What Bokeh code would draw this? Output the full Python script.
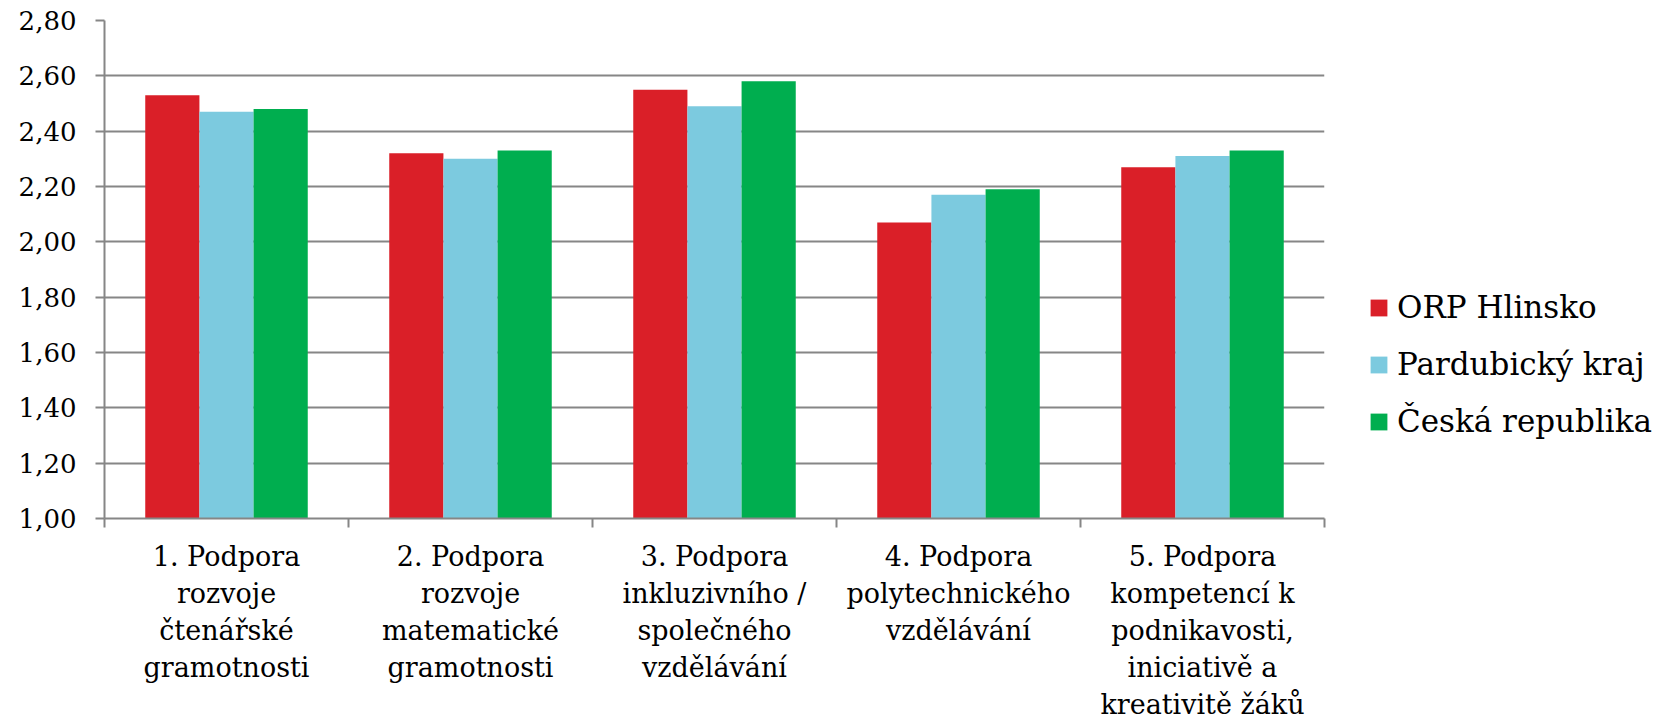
from bokeh.plotting import figure
from bokeh.models import ColumnDataSource, Range1d, FixedTicker, Legend, LegendItem
from bokeh.transform import dodge
from bokeh.embed import file_html
from bokeh.resources import INLINE

categories = [
    "1. Podpora\nrozvoje\nčtenářské\ngramotnosti",
    "2. Podpora\nrozvoje\nmatematické\ngramotnosti",
    "3. Podpora\ninkluzivního /\nspolečného\nvzdělávání",
    "4. Podpora\npolytechnického\nvzdělávání",
    "5. Podpora\nkompetencí k\npodnikavosti,\niniciativě a\nkreativitě žáků",
]
series_names = ["ORP Hlinsko", "Pardubický kraj", "Česká republika"]
orp_hlinsko = [2.53, 2.32, 2.55, 2.07, 2.27]
pardubicky_kraj = [2.47, 2.30, 2.49, 2.17, 2.31]
ceska_republika = [2.48, 2.33, 2.58, 2.19, 2.33]
y_ticks = [1.0, 1.2, 1.4, 1.6, 1.8, 2.0, 2.2, 2.4, 2.6, 2.8]
y_tick_labels = ["1,00", "1,20", "1,40", "1,60", "1,80", "2,00", "2,20", "2,40", "2,60", "2,80"]
colors = ["#DA1F28", "#7CCADF", "#00AE4F"]

n = len(categories)
xs = [i + 0.5 for i in range(n)]
boundaries = [float(i) for i in range(n + 1)]

source = ColumnDataSource(data=dict(
    x=xs,
    orp=orp_hlinsko,
    par=pardubicky_kraj,
    cr=ceska_republika,
))

GRAY = "#868686"
FONT = "DejaVu Serif"

p = figure(
    frame_width=1220, frame_height=498,
    min_border_left=104, min_border_top=20, min_border_right=325, min_border_bottom=178,
    x_range=Range1d(0, n), y_range=Range1d(1.0, 2.8),
    output_backend="svg", toolbar_location=None,
)
p.outline_line_color = None
p.background_fill_color = "white"
p.border_fill_color = "white"

bw = 0.222
renderers = []
for off, col, c in zip([-bw, 0.0, bw], ["orp", "par", "cr"], colors):
    r = p.vbar(x=dodge("x", off, range=p.x_range), top=col, bottom=1.0, width=bw,
               source=source, fill_color=c, line_color=None)
    renderers.append(r)

# y axis
p.yaxis.ticker = FixedTicker(ticks=y_ticks)
p.yaxis.major_label_overrides = dict(zip(y_ticks, y_tick_labels))
p.yaxis.axis_line_color = GRAY
p.yaxis.axis_line_width = 2
p.yaxis.major_tick_line_color = GRAY
p.yaxis.major_tick_line_width = 2
p.yaxis.major_tick_out = 9
p.yaxis.major_tick_in = 0
p.yaxis.minor_tick_line_color = None
p.yaxis.major_label_text_font = FONT
p.yaxis.major_label_text_font_size = "26px"
p.yaxis.major_label_text_color = "black"
p.yaxis.major_label_standoff = 19

p.ygrid.ticker = FixedTicker(ticks=y_ticks)
p.ygrid.grid_line_color = GRAY
p.ygrid.grid_line_width = 2
p.xgrid.visible = False

# x axis
p.xaxis.ticker = FixedTicker(ticks=xs, minor_ticks=boundaries)
p.xaxis.major_label_overrides = dict(zip(xs, categories))
p.xaxis.axis_line_color = GRAY
p.xaxis.axis_line_width = 2
p.xaxis.major_tick_line_color = None
p.xaxis.major_tick_out = 9
p.xaxis.minor_tick_line_color = GRAY
p.xaxis.minor_tick_line_width = 2
p.xaxis.minor_tick_out = 9
p.xaxis.minor_tick_in = 0
p.xaxis.major_label_text_font = FONT
p.xaxis.major_label_text_font_size = "27px"
p.xaxis.major_label_text_color = "black"
p.xaxis.major_label_text_line_height = 1.2
p.xaxis.major_label_standoff = 13
p.xaxis.major_label_orientation = "horizontal"

legend = Legend(
    items=[LegendItem(label=nm, renderers=[r]) for nm, r in zip(series_names, renderers)],
    location=(44, 77),
    border_line_color=None,
    background_fill_alpha=0,
    label_text_font=FONT,
    label_text_font_size="31px",
    label_text_color="black",
    glyph_width=21, glyph_height=21,
    label_height=40,
    spacing=17,
    label_standoff=8,
    padding=0, margin=0,
)
p.add_layout(legend, "right")

open("out.html", "w").write(file_html(p, INLINE))
